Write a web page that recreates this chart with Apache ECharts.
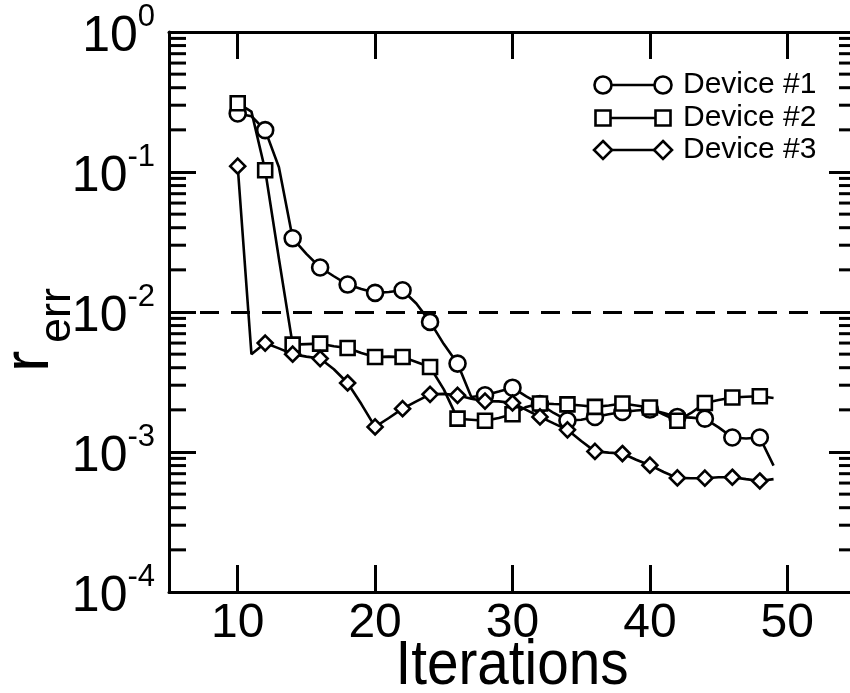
<!DOCTYPE html>
<html>
<head>
<meta charset="utf-8">
<title>Relative error vs. iterations</title>
<script src="https://cdn.jsdelivr.net/npm/echarts@6/dist/echarts.min.js"></script>
<style>
  html, body { margin: 0; padding: 0; background: #ffffff; }
  #chart { width: 850px; height: 693px; }
</style>
</head>
<body>
<div id="chart"></div>
<script>
// Iteration index of each sample (one sample per iteration, marker on every second one)
const iterations = [10, 11, 12, 13, 14, 15, 16, 17, 18, 19,
                    20, 21, 22, 23, 24, 25, 26, 27, 28, 29,
                    30, 31, 32, 33, 34, 35, 36, 37, 38, 39,
                    40, 41, 42, 43, 44, 45, 46, 47, 48, 49];

// Relative error r_err per device
const device1 = [0.262, 0.25, 0.199, 0.108, 0.0336, 0.026, 0.0208, 0.018, 0.0157, 0.0146,
                 0.0137, 0.0139, 0.0143, 0.0115, 0.0085, 0.0059, 0.00428, 0.00247, 0.00254, 0.0027,
                 0.00288, 0.0025, 0.0022, 0.0019, 0.00168, 0.0017, 0.00178, 0.00186, 0.00193, 0.00198,
                 0.00201, 0.0019, 0.00178, 0.00176, 0.00173, 0.0015, 0.00127, 0.00125, 0.00127, 0.0008];

const device2 = [0.31, 0.27, 0.103, 0.024, 0.00585, 0.0059, 0.00594, 0.0057, 0.00553, 0.0051,
                 0.00477, 0.0048, 0.00477, 0.0044, 0.00405, 0.0028, 0.00173, 0.0017, 0.00167, 0.00175,
                 0.00186, 0.0021, 0.00222, 0.0022, 0.00219, 0.00215, 0.0021, 0.00215, 0.00222, 0.00215,
                 0.00208, 0.00185, 0.00167, 0.0019, 0.00224, 0.00235, 0.00245, 0.00248, 0.0025, 0.00243];

const device3 = [0.110, 0.0050, 0.0060, 0.0055, 0.0050, 0.0048, 0.00465, 0.0039, 0.00311, 0.0022,
                 0.00151, 0.00175, 0.00204, 0.0023, 0.00258, 0.0026, 0.00254, 0.0024, 0.00231, 0.0023,
                 0.00224, 0.0020, 0.00178, 0.0016, 0.00144, 0.0012, 0.00101, 0.00099, 0.000975, 0.00088,
                 0.000805, 0.00072, 0.000653, 0.00065, 0.00065, 0.00066, 0.00066, 0.00064, 0.000621, 0.00064];

const seriesNames = ['Device #1', 'Device #2', 'Device #3'];

// Axis ranges, ticks and titles
const xRange = [5, 55];
const yRange = [1e-4, 1];
const xTicks = [10, 20, 30, 40, 50];
const yMinorTicks = [
  2e-4, 3e-4, 4e-4, 5e-4, 6e-4, 7e-4, 8e-4, 9e-4,
  2e-3, 3e-3, 4e-3, 5e-3, 6e-3, 7e-3, 8e-3, 9e-3,
  2e-2, 3e-2, 4e-2, 5e-2, 6e-2, 7e-2, 8e-2, 9e-2,
  2e-1, 3e-1, 4e-1, 5e-1, 6e-1, 7e-1, 8e-1, 9e-1
];
const threshold = 0.01;
const xTitle = 'Iterations';

const INK = '#000000';
const FONT = '"Liberation Sans", Arial, Helvetica, sans-serif';
const symbols = ['circle', 'rect', 'diamond'];
const symbolSizes = [16, 14, 15];

function buildData(values, symbol) {
  return iterations.map((it, k) => ({
    value: [it, values[k]],
    symbol: it % 2 === 0 ? symbol : 'none'
  }));
}

const deviceSeries = [device1, device2, device3].map((vals, i) => ({
  name: seriesNames[i],
  type: 'line',
  xAxisIndex: 0,
  yAxisIndex: 0,
  data: buildData(vals, symbols[i]),
  symbol: symbols[i],
  symbolSize: symbolSizes[i],
  showAllSymbol: true,
  smooth: false,
  z: 10 + i,
  lineStyle: { color: INK, width: 2.6 },
  itemStyle: { color: '#ffffff', borderColor: INK, borderWidth: 2.6 },
  emphasis: { disabled: true },
  markLine: i === 0 ? {
    silent: true,
    symbol: ['none', 'none'],
    label: { show: false },
    lineStyle: { color: INK, width: 3, type: [19, 12] },
    data: [{ yAxis: threshold }]
  } : undefined
}));

// Minor ticks of the log axis on both vertical frame edges
const minorTickSeries = {
  type: 'custom',
  xAxisIndex: 0,
  yAxisIndex: 0,
  silent: true,
  clip: false,
  z: 5,
  data: yMinorTicks.map(v => [xRange[0], v]),
  renderItem: function (params, api) {
    const v = api.value(1);
    const pl = api.coord([xRange[0], v]);
    const pr = api.coord([xRange[1], v]);
    return {
      type: 'group',
      children: [
        { type: 'line', shape: { x1: pl[0], y1: pl[1], x2: pl[0] + 17, y2: pl[1] },
          style: { stroke: INK, lineWidth: 3 } },
        { type: 'line', shape: { x1: pr[0] - 17, y1: pr[1], x2: pr[0], y2: pr[1] },
          style: { stroke: INK, lineWidth: 3 } }
      ]
    };
  }
};

// Legend drawn as symbol–line–symbol rows
function legendSymbol(kind, cx, cy) {
  const style = { fill: '#ffffff', stroke: INK, lineWidth: 2.6 };
  if (kind === 'circle') return { type: 'circle', shape: { cx: cx, cy: cy, r: 8.5 }, style: style };
  if (kind === 'rect') return { type: 'rect', shape: { x: cx - 7.5, y: cy - 7.5, width: 15, height: 15 }, style: style };
  return { type: 'polygon', shape: { points: [[cx, cy - 9], [cx + 9, cy], [cx, cy + 9], [cx - 9, cy]] }, style: style };
}
const legendRows = [85, 118, 150];
const legendChildren = [];
seriesNames.forEach((name, i) => {
  const y = legendRows[i];
  legendChildren.push({ type: 'line', shape: { x1: 603, y1: y, x2: 663, y2: y }, style: { stroke: INK, lineWidth: 2.6 } });
  legendChildren.push(legendSymbol(symbols[i], 603, y));
  legendChildren.push(legendSymbol(symbols[i], 663, y));
  legendChildren.push({ type: 'text', x: 683, y: y,
    style: { text: name, fill: INK, font: '30px ' + FONT, verticalAlign: 'middle', align: 'left' } });
});

const chart = echarts.init(document.getElementById('chart'), null, { renderer: 'canvas' });

chart.setOption({
  animation: false,
  backgroundColor: '#ffffff',
  grid: { left: 169, top: 32, width: 687, height: 560, containLabel: false, outerBoundsMode: 'none' },
  xAxis: [
    {
      type: 'value', position: 'bottom', min: xRange[0], max: xRange[1],
      splitLine: { show: false },
      axisLine: { show: true, onZero: false, lineStyle: { color: INK, width: 3 } },
      axisTick: { show: true, inside: true, length: 27, customValues: xTicks, lineStyle: { color: INK, width: 3 } },
      axisLabel: { show: true, customValues: xTicks, color: INK, fontFamily: FONT, fontSize: 48, margin: 8 }
    },
    {
      type: 'value', position: 'top', min: xRange[0], max: xRange[1],
      splitLine: { show: false },
      axisLine: { show: true, onZero: false, lineStyle: { color: INK, width: 3 } },
      axisTick: { show: true, inside: true, length: 27, customValues: xTicks, lineStyle: { color: INK, width: 3 } },
      axisLabel: { show: false }
    }
  ],
  yAxis: [
    {
      type: 'log', logBase: 10, position: 'left', min: yRange[0], max: yRange[1],
      splitLine: { show: false },
      axisLine: { show: true, onZero: false, lineStyle: { color: INK, width: 3 } },
      axisTick: { show: true, inside: true, length: 27, lineStyle: { color: INK, width: 3 } },
      minorTick: { show: false },
      axisLabel: {
        show: true,
        margin: 14,
        formatter: function (v) {
          const e = Math.round(Math.log10(v));
          return '{b|10}{s|' + e + '}';
        },
        rich: {
          b: { fontFamily: FONT, fontSize: 50, lineHeight: 60, color: INK, verticalAlign: 'bottom' },
          s: { fontFamily: FONT, fontSize: 31, lineHeight: 22, color: INK, verticalAlign: 'top' }
        }
      }
    },
    {
      type: 'log', logBase: 10, position: 'right', min: yRange[0], max: yRange[1],
      splitLine: { show: false },
      axisLine: { show: true, onZero: false, lineStyle: { color: INK, width: 3 } },
      axisTick: { show: true, inside: true, length: 27, lineStyle: { color: INK, width: 3 } },
      axisLabel: { show: false }
    }
  ],
  graphic: [
    {
      // x-axis title in a tall, condensed setting
      type: 'text',
      x: 512, y: 667,
      scaleX: 0.9,
      style: { text: xTitle, fill: INK, font: '63px ' + FONT, align: 'center', verticalAlign: 'middle' }
    },
    {
      // y-axis title r_err, rotated to read bottom to top
      type: 'group',
      x: 62, y: 372,
      rotation: Math.PI / 2,
      children: [
        { type: 'text', x: 0, y: 0,
          style: { text: 'r', fill: INK, font: '64px ' + FONT, align: 'left', verticalAlign: 'bottom' } },
        { type: 'text', x: 29, y: 18,
          style: { text: 'err', fill: INK, font: '45px ' + FONT, align: 'left', verticalAlign: 'bottom' } }
      ]
    },
    { type: 'group', children: legendChildren, z: 50 }
  ],
  series: [minorTickSeries].concat(deviceSeries)
});
</script>
</body>
</html>
